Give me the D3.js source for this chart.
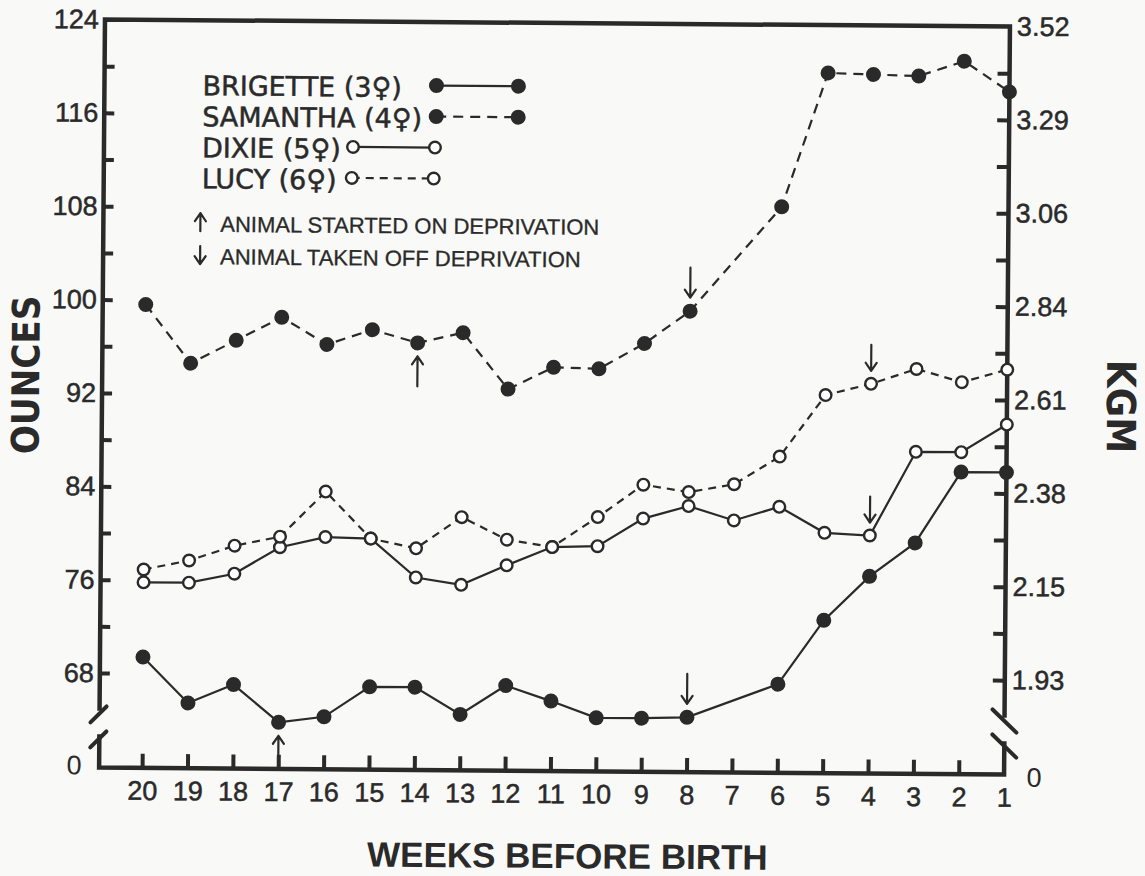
<!DOCTYPE html>
<html>
<head>
<meta charset="utf-8">
<script src="https://cdn.jsdelivr.net/npm/d3@7"></script>
<style>
  html, body { margin: 0; padding: 0; background: #f9f9f7; }
  svg { display: block; }
  .tick text { font-family: "Liberation Sans", Arial, sans-serif; font-size: 27px; fill: #2a2a2a; stroke: #2a2a2a; stroke-width: 0.5px; }
</style>
</head>
<body>
<div id="chart"></div>
<script>
// weights of four infants, weeks before birth

let svgWidth = 1145;
let svgHeight = 876;
let ink = "#2a2a2a";
let paper = "#f9f9f7";

let weeks = [20, 19, 18, 17, 16, 15, 14, 13, 12, 11, 10, 9, 8, 7, 6, 5, 4, 3, 2, 1];

// ounces, null = not weighed that week
let brigette = [69.4, 65.5, 67.1, 63.9, 64.4, 67.0, 67.0, 64.7, 67.2, 65.9, 64.5, 64.5, 64.6, null, 67.5, 73.0, 76.8, 79.7, 85.8, 85.8];
let samantha = [99.6, 94.6, 96.6, 98.6, 96.3, 97.6, 96.5, 97.4, 92.6, 94.5, 94.4, 96.6, 99.4, null, 108.4, 119.9, 119.8, 119.7, 121.0, 118.4];
let dixie = [75.8, 75.8, 76.6, 78.9, 79.8, 79.7, 76.4, 75.8, 77.5, 79.1, 79.2, 81.6, 82.7, 81.5, 82.7, 80.5, 80.3, 87.5, 87.5, 89.9];
let lucy = [76.9, 77.7, 79.0, 79.8, 83.7, 79.7, 78.9, 81.6, 79.7, 79.1, 81.7, 84.5, 83.9, 84.6, 87.0, 92.3, 93.3, 94.6, 93.5, 94.6];

let ozTicks = [68, 72, 76, 80, 84, 88, 92, 96, 100, 104, 108, 112, 116, 120, 124];
let ozLabels = [124, 116, 108, 100, 92, 84, 76, 68];
let kgLabels = ["3.52", "3.29", "3.06", "2.84", "2.61", "2.38", "2.15", "1.93"];

let series = [
  { key: "brigette", label: "BRIGETTE (3\u2640)", values: brigette, filled: true, dash: null },
  { key: "samantha", label: "SAMANTHA (4\u2640)", values: samantha, filled: true, dash: "10,7" },
  { key: "dixie", label: "DIXIE (5\u2640)", values: dixie, filled: false, dash: null },
  { key: "lucy", label: "LUCY (6\u2640)", values: lucy, filled: false, dash: "8,6" }
];

// deprivation markers
let arrows = [
  { key: "brigette", week: 17, dir: "up" },
  { key: "samantha", week: 14, dir: "up" },
  { key: "samantha", week: 8, dir: "down" },
  { key: "brigette", week: 8, dir: "down" },
  { key: "lucy", week: 4, dir: "down" },
  { key: "dixie", week: 4, dir: "down" }
];

let left = 102, right = 1007, zeroY = 771;
let breakTop = 712, breakBot = 740;

let x = d3.scaleLinear().domain([20, 1]).range([145, right]);
let y = d3.scaleLinear().domain([68, 124]).range([676.6, 23]);

let svg = d3.select("#chart").append("svg")
    .attr("width", svgWidth)
    .attr("height", svgHeight);

svg.append("rect").attr("width", svgWidth).attr("height", svgHeight).attr("fill", paper);

// the original photocopy sits slightly askew
let g = svg.append("g").attr("transform", "rotate(0.45, 555, 400)");

// frame with broken axes
g.append("path")
    .attr("d", `M${left},${breakTop}V${y(124)}H${right}V${breakTop}` +
               `M${left},${breakBot}V${zeroY}H${right}V${breakBot}`)
    .attr("fill", "none").attr("stroke", ink).attr("stroke-width", 4.5)
    .attr("stroke-linecap", "square");

[717, 742].forEach(c => {
  g.append("line").attr("x1", left - 9).attr("y1", c + 9).attr("x2", left + 7).attr("y2", c - 7)
    .attr("stroke", ink).attr("stroke-width", 4).attr("stroke-linecap", "round");
  g.append("line").attr("x1", right - 12).attr("y1", c - 11).attr("x2", right + 12).attr("y2", c + 12)
    .attr("stroke", ink).attr("stroke-width", 4).attr("stroke-linecap", "round");
});

let leftAxis = d3.axisLeft(y).tickValues(ozTicks)
    .tickSizeInner(-10).tickSizeOuter(0).tickPadding(6)
    .tickFormat(d => ozLabels.includes(d) ? d : "");
let gL = g.append("g").attr("transform", `translate(${left},0)`).call(leftAxis);

let rightAxis = d3.axisRight(y).tickValues(ozTicks)
    .tickSizeInner(-12).tickSizeOuter(0).tickPadding(7)
    .tickFormat(d => ozLabels.includes(d) ? kgLabels[ozLabels.indexOf(d)] : "");
let gR = g.append("g").attr("transform", `translate(${right},0)`).call(rightAxis);

let bottomAxis = d3.axisBottom(x).tickValues(weeks)
    .tickSizeInner(-14).tickSizeOuter(0).tickPadding(13);
let gB = g.append("g").attr("transform", `translate(0,${zeroY})`).call(bottomAxis);

[gL, gR, gB].forEach(a => {
  a.select(".domain").remove();
  a.attr("font-family", null).attr("font-size", null);
  a.selectAll(".tick line").attr("stroke", ink).attr("stroke-width", 4);
});
gL.selectAll(".tick").filter(d => d === 124).select("line").remove();
gR.selectAll(".tick").filter(d => d === 124).select("line").remove();
gB.selectAll(".tick").filter(d => d === 1).select("line").remove();

let axisFont = "'Liberation Sans', Arial, sans-serif";
g.append("text").attr("x", 77).attr("y", 769).text("0")
    .attr("text-anchor", "middle").attr("dominant-baseline", "central")
    .attr("font-family", axisFont).attr("font-size", 27).attr("fill", ink);
g.append("text").attr("x", 1037).attr("y", 774).text("0")
    .attr("text-anchor", "middle").attr("dominant-baseline", "central")
    .attr("font-family", axisFont).attr("font-size", 27).attr("fill", ink);

// axis titles
let narrowBold = "'Liberation Sans Narrow', 'DejaVu Sans Condensed', sans-serif";
g.append("text").attr("transform", "translate(26,379) rotate(-90)").text("OUNCES")
    .attr("text-anchor", "middle").attr("dominant-baseline", "central")
    .attr("font-family", narrowBold).attr("font-weight", "bold").attr("font-size", 38).attr("fill", ink);
g.append("text").attr("transform", "translate(1121,402) rotate(90)").text("KGM")
    .attr("text-anchor", "middle").attr("dominant-baseline", "central")
    .attr("font-family", narrowBold).attr("font-weight", "bold").attr("font-size", 40).attr("fill", ink);
g.append("text").attr("x", 571).attr("y", 868).text("WEEKS BEFORE BIRTH")
    .attr("text-anchor", "middle")
    .attr("font-family", axisFont).attr("font-weight", "bold").attr("font-size", 35).attr("fill", ink);

// data
let line = d3.line().x(d => x(d.week)).y(d => y(d.value));

function points(s) {
  return weeks.map((w, i) => ({ week: w, value: s.values[i] })).filter(d => d.value != null);
}

function drawMarker(sel, cx, cy, filled) {
  if (filled) {
    sel.append("circle").attr("cx", cx).attr("cy", cy).attr("r", 7.5).attr("fill", ink);
  } else {
    sel.append("circle").attr("cx", cx).attr("cy", cy).attr("r", 5.8)
      .attr("fill", "#ffffff").attr("stroke", ink).attr("stroke-width", 2.4);
  }
}

series.forEach(s => {
  g.append("path").datum(points(s))
    .attr("d", line)
    .attr("fill", "none").attr("stroke", ink).attr("stroke-width", 2.2)
    .attr("stroke-dasharray", s.dash);
});
series.forEach(s => {
  let gm = g.append("g");
  points(s).forEach(d => drawMarker(gm, x(d.week), y(d.value), s.filled));
});

function drawArrow(cx, tipY, len, dir) {
  // dir -1: points up, +1: points down
  let tail = tipY - dir * len;
  g.append("path")
    .attr("d", `M${cx},${tail}V${tipY}M${cx - 5.5},${tipY - dir * 8}L${cx},${tipY}L${cx + 5.5},${tipY - dir * 8}`)
    .attr("fill", "none").attr("stroke", ink).attr("stroke-width", 2.2)
    .attr("stroke-linecap", "round").attr("stroke-linejoin", "round");
}

arrows.forEach(a => {
  let s = series.find(d => d.key === a.key);
  let v = s.values[weeks.indexOf(a.week)];
  let cx = x(a.week), cy = y(v);
  let r = s.filled ? 7.5 : 7;
  if (a.dir === "up") {
    let tip = cy + r + 6;
    let len = Math.min(30, zeroY - 14 - tip);
    drawArrow(cx, tip, len, -1);
  } else {
    let len = s.filled ? 30 : 26;
    drawArrow(cx, cy - r - 6, len, 1);
  }
});

// legend
let legendFont = "'Liberation Sans Narrow', 'DejaVu Sans', sans-serif";
let legendStart = [434, 434, 351, 350];
series.forEach((s, i) => {
  let base = 98 + i * 31;
  let t = g.append("text").attr("x", 200).attr("y", base).text(s.label)
    .attr("font-family", legendFont).attr("font-size", 27).attr("fill", ink)
    .attr("stroke", ink).attr("stroke-width", 0.5);
  let end = 200 + t.node().getComputedTextLength();
  let x1 = Math.max(legendStart[i], end + 12), x2 = x1 + 82, ly = base - 11.5;
  g.append("line").attr("x1", x1).attr("y1", ly).attr("x2", x2).attr("y2", ly)
    .attr("stroke", ink).attr("stroke-width", 2.2).attr("stroke-dasharray", s.dash);
  drawMarker(g, x1, ly, s.filled);
  drawMarker(g, x2, ly, s.filled);
});

g.append("text").attr("x", 219).attr("y", 234.5).text("ANIMAL STARTED ON DEPRIVATION")
    .attr("font-family", "'Liberation Sans', Arial, sans-serif").attr("font-size", 22).attr("fill", ink)
    .attr("stroke", ink).attr("stroke-width", 0.3);
g.append("text").attr("x", 219).attr("y", 267).text("ANIMAL TAKEN OFF DEPRIVATION")
    .attr("font-family", "'Liberation Sans', Arial, sans-serif").attr("font-size", 22).attr("fill", ink)
    .attr("stroke", ink).attr("stroke-width", 0.3);
drawArrow(199, 216, 18, -1);
drawArrow(199, 267, 18, 1);
</script>
</body>
</html>
